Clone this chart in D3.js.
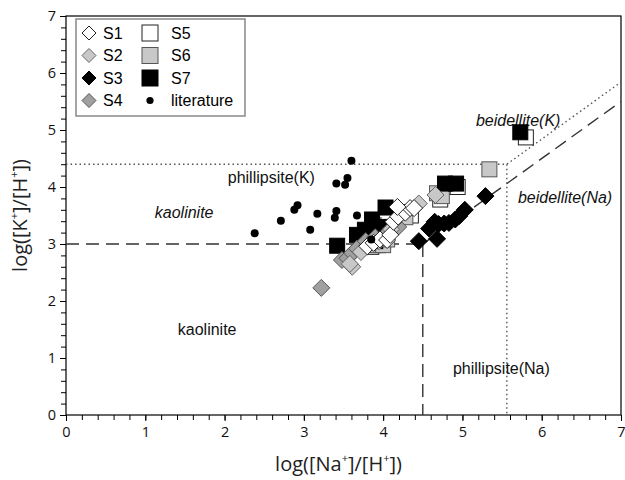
<!DOCTYPE html>
<html><head><meta charset="utf-8">
<script src="https://cdn.jsdelivr.net/npm/d3@7"></script>
<style>body{margin:0;background:#fff}svg{display:block}</style>
</head><body><svg id="c" width="625" height="480"></svg>
<script>
// ---- data ----
const xTicks = [0,1,2,3,4,5,6,7];
const yTicks = [0,1,2,3,4,5,6,7];
const literature = [[3.60,4.46],[3.55,4.16],[3.41,4.06],[3.52,4.04],[2.92,3.68],[2.88,3.60],[3.17,3.53],[3.41,3.58],[3.39,3.46],[3.67,3.50],[2.71,3.41],[3.08,3.25],[2.38,3.19],[3.85,3.08]];
const S7 = [[3.42,2.97],[3.67,3.16],[3.77,3.25],[3.86,3.43],[4.03,3.64],[3.96,3.30],[3.82,3.10],[3.98,3.20],[3.90,3.05],[4.78,4.06],[4.92,4.06],[5.73,4.96]];
const S6 = [[3.88,2.98],[4.00,2.98],[3.88,3.33],[4.05,3.08],[4.28,3.47],[4.68,3.89],[4.74,3.84],[5.34,4.31]];
const S5 = [[3.85,2.95],[3.93,2.98],[4.00,3.06],[4.22,3.56],[4.35,3.50],[4.72,3.78],[4.80,4.00],[4.94,4.00],[5.80,4.87]];
const S4 = [[3.22,2.23],[3.48,2.72],[3.55,2.75],[3.61,2.84],[3.67,2.92],[3.78,3.05],[3.90,3.12],[4.07,3.22],[4.19,3.30]];
const S2 = [[3.61,2.60],[3.58,2.65],[3.72,2.86],[3.95,3.05],[4.10,3.26],[4.45,3.71],[4.66,3.86]];
const S1 = [[3.80,2.96],[3.88,3.02],[3.96,3.08],[4.05,3.07],[4.09,3.16],[4.13,3.39],[4.19,3.48],[4.28,3.55],[4.34,3.63],[4.39,3.63],[4.18,3.65]];
const S3 = [[4.45,3.05],[4.68,3.09],[4.58,3.27],[4.65,3.39],[4.70,3.35],[4.77,3.36],[4.83,3.37],[4.91,3.43],[4.96,3.49],[5.03,3.60],[5.29,3.84]];
const dashedLine = [[0,3],[4.5,3],[7,5.5]];
const dashedVert = [[4.5,3],[4.5,0]];
const dottedLine = [[0,4.4],[5.56,4.4],[7,5.84]];
const dottedVert = [[5.56,4.4],[5.56,0]];
const regionLabels = [
  {t:"beidellite(K)", x:5.17, y:5.07, it:true},
  {t:"beidellite(Na)", x:5.70, y:3.72, it:true},
  {t:"phillipsite(K)", x:2.04, y:4.07, it:false},
  {t:"kaolinite", x:1.12, y:3.46, it:true},
  {t:"kaolinite", x:1.41, y:1.40, it:false},
  {t:"phillipsite(Na)", x:4.88, y:0.72, it:false}
];
const legendItems = [
  {n:"S1", shape:"d", fill:"#fff", stroke:"#222"},
  {n:"S2", shape:"d", fill:"#c8c8c8", stroke:"#666"},
  {n:"S3", shape:"d", fill:"#000", stroke:"#000"},
  {n:"S4", shape:"d", fill:"#a0a0a0", stroke:"#555"},
  {n:"S5", shape:"s", fill:"#fff", stroke:"#222"},
  {n:"S6", shape:"s", fill:"#c8c8c8", stroke:"#555"},
  {n:"S7", shape:"s", fill:"#000", stroke:"#000"},
  {n:"literature", shape:"c", fill:"#000", stroke:"#000"}
];

// ---- drawing ----
const svg = d3.select("#c");
const L=66, R=621, T=16, B=415;
const x = d3.scaleLinear().domain([0,7]).range([L,R]);
const y = d3.scaleLinear().domain([0,7]).range([B,T]);
const tickFont = "'Open Sans', sans-serif";

svg.append("rect").attr("x",L).attr("y",T).attr("width",R-L).attr("height",B-T)
  .attr("fill","none").attr("stroke","#000").attr("stroke-width",1.2);

const xMinor = d3.range(0,7.01,0.2);
const gx = svg.append("g").attr("transform",`translate(0,${B})`);
gx.call(d3.axisBottom(x).tickValues(xMinor).tickSize(5).tickFormat(""));
gx.select(".domain").remove();
const gx2 = svg.append("g").attr("transform",`translate(0,${B})`)
  .call(d3.axisBottom(x).tickValues(xTicks).tickSize(6).tickPadding(6).tickFormat(d3.format("d")));
gx2.select(".domain").remove();
gx2.selectAll("text").attr("font-family",tickFont).attr("font-size",14.5).attr("fill","#111");
const gy = svg.append("g").attr("transform",`translate(${L},0)`);
gy.call(d3.axisLeft(y).tickValues(xMinor).tickSize(5).tickFormat(""));
gy.select(".domain").remove();
const gy2 = svg.append("g").attr("transform",`translate(${L},0)`)
  .call(d3.axisLeft(y).tickValues(yTicks).tickSize(6).tickPadding(4).tickFormat(d3.format("d")));
gy2.select(".domain").remove();
gy2.selectAll("text").attr("font-family",tickFont).attr("font-size",14.5).attr("fill","#111");
svg.selectAll(".tick line").attr("stroke","#000");

const line = d3.line().x(d=>x(d[0])).y(d=>y(d[1]));
[dashedLine, dashedVert].forEach(p=>svg.append("path").attr("d",line(p))
  .attr("fill","none").attr("stroke","#333").attr("stroke-width",1.4).attr("stroke-dasharray","13,7"));
[dottedLine, dottedVert].forEach(p=>svg.append("path").attr("d",line(p))
  .attr("fill","none").attr("stroke","#555").attr("stroke-width",1.4).attr("stroke-dasharray","1.5,3"));

svg.selectAll("text.reg").data(regionLabels).join("text").attr("class","reg")
  .attr("x",d=>x(d.x)).attr("y",d=>y(d.y)).text(d=>d.t)
  .attr("font-family","'Liberation Sans', Arial, sans-serif").attr("font-size",16)
  .attr("font-style",d=>d.it?"italic":"normal").attr("fill","#111");

const diamondPath = s => `M0,${-s}L${s},0L0,${s}L${-s},0Z`;
function drawMarker(g, shape, fill, stroke){
  if(shape==="d") g.append("path").attr("d",diamondPath(8.5)).attr("fill",fill).attr("stroke",stroke).attr("stroke-width",1);
  else if(shape==="s") g.append("rect").attr("x",-7.5).attr("y",-7.5).attr("width",15).attr("height",15).attr("fill",fill).attr("stroke",stroke).attr("stroke-width",1);
  else g.append("circle").attr("r",4).attr("fill",fill);
}
function series(data, idx){
  const it = legendItems[idx];
  svg.append("g").selectAll("g").data(data).join("g")
    .attr("transform",d=>`translate(${x(d[0])},${y(d[1])})`)
    .each(function(){ drawMarker(d3.select(this), it.shape, it.fill, it.stroke); });
}
series(S5,4); series(S6,5); series(S7,6);
series(S4,3); series(S2,1); series(S1,0);
series(literature,7);
series(S3,2);

const lg = svg.append("g");
lg.append("rect").attr("x",76).attr("y",19).attr("width",169).attr("height",97)
  .attr("fill","#fff").attr("stroke","#888").attr("stroke-width",1.5);
legendItems.forEach((it,i)=>{
  const col = Math.floor(i/4), row = i%4;
  const mx = col===0?89:150, ty = 33+row*22.5;
  const g = lg.append("g").attr("transform",`translate(${mx},${ty})`);
  if(it.shape==="d"){ g.append("path").attr("d",diamondPath(7)).attr("fill",it.fill).attr("stroke",it.stroke); }
  else if(it.shape==="s"){ g.append("rect").attr("x",-8).attr("y",-8).attr("width",16).attr("height",16).attr("fill",it.fill).attr("stroke",it.stroke); }
  else g.append("circle").attr("r",3.6).attr("fill","#000");
  lg.append("text").attr("x",col===0?103:171).attr("y",ty+5.5).text(it.n)
    .attr("font-family","'Liberation Sans', Arial, sans-serif").attr("font-size",16).attr("fill","#000");
});

const xt = svg.append("text").attr("x",(L+R)/2-5).attr("y",471).attr("text-anchor","middle")
  .attr("font-family",tickFont).attr("font-size",20).attr("fill","#222");
xt.append("tspan").text("log([Na");
xt.append("tspan").text("+").attr("font-size",11).attr("dy",-9);
xt.append("tspan").text("]/[H").attr("dy",9);
xt.append("tspan").text("+").attr("font-size",11).attr("dy",-9);
xt.append("tspan").text("])").attr("dy",9);
const yt = svg.append("text").attr("transform",`translate(27,${(T+B)/2}) rotate(-90)`).attr("text-anchor","middle")
  .attr("font-family",tickFont).attr("font-size",20).attr("fill","#222");
yt.append("tspan").text("log([K");
yt.append("tspan").text("+").attr("font-size",11).attr("dy",-9);
yt.append("tspan").text("]/[H").attr("dy",9);
yt.append("tspan").text("+").attr("font-size",11).attr("dy",-9);
yt.append("tspan").text("])").attr("dy",9);
</script></body></html>
